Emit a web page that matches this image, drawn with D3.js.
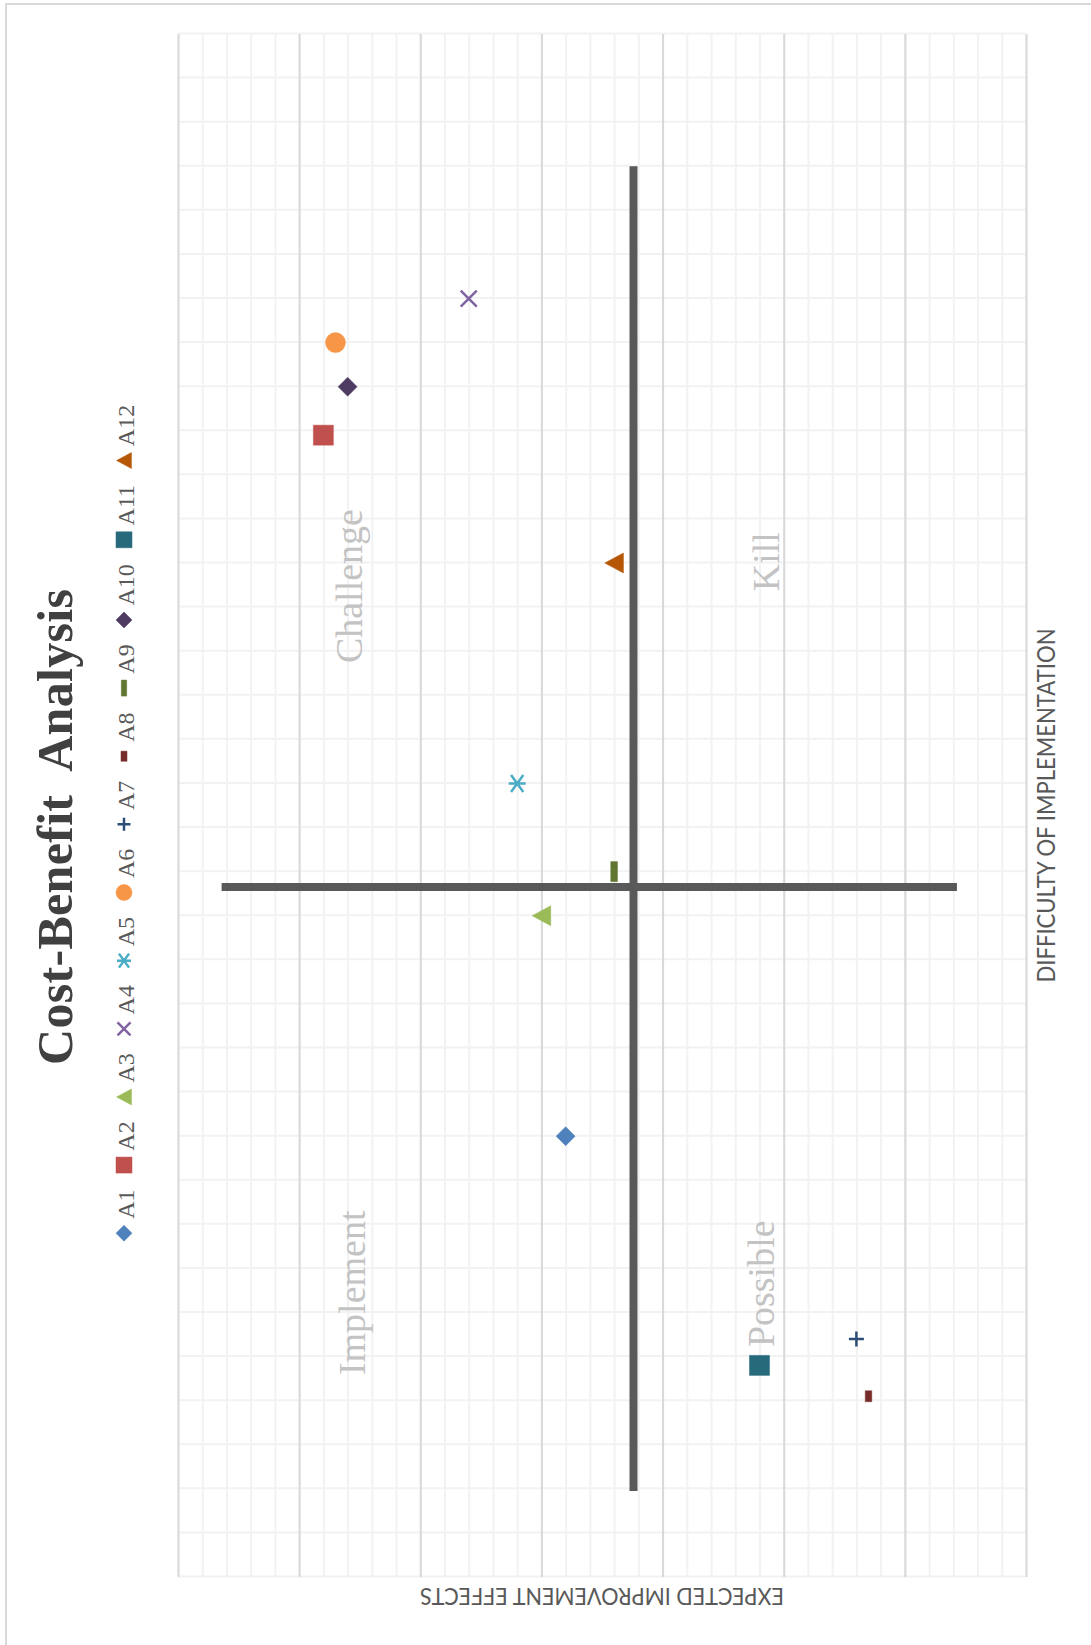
<!DOCTYPE html>
<html>
<head>
<meta charset="utf-8">
<title>Cost-Benefit Analysis</title>
<script src="https://cdn.jsdelivr.net/npm/d3@7"></script>
<style>
  html, body { margin: 0; padding: 0; background: #fff; }
  svg { display: block; }
</style>
</head>
<body>
<svg id="chart" width="1091" height="1645"></svg>
<script>
// ---- data -------------------------------------------------------------
const projects   = ["A1", "A2", "A3", "A4", "A5", "A6", "A7", "A8", "A9", "A10", "A11", "A12"];
const difficulty = [2.0, 5.18, 3.0, 5.8, 3.6, 5.6, 1.08, 0.82, 3.2, 5.4, 0.96, 4.6];
const effects    = [3.8, 5.8, 4.0, 4.6, 4.2, 5.7, 1.4, 1.3, 3.4, 5.6, 2.2, 3.4];
const colors     = ["#4f81bd", "#c0504d", "#9bbb59", "#8064a2", "#4bacc6", "#f79646",
                    "#2c4d75", "#772c2a", "#5f7530", "#4d3b62", "#276a7c", "#b65708"];
const shapes     = ["diamond", "square", "triangle", "times", "star", "circle",
                    "plus", "shortBar", "longBar", "diamond", "square", "triangle"];

// the two divider series that split the plane into quadrants
const splitEffectsDifficulty  = [0.39, 6.4];
const splitEffectsValue       = [3.24, 3.24];
const splitDifficultyValue    = [3.13, 3.13];
const splitDifficultyEffects  = [0.57, 6.64];

// quadrant captions, anchored in data units
const quadrantLabels     = ["Implement", "Challenge", "Possible", "Kill"];
const quadrantDifficulty = [0.916, 4.146, 1.043, 4.472];
const quadrantEffects    = [5.456, 5.48, 2.08, 2.04];

const title      = "Cost-Benefit  Analysis";
const xAxisTitle = "DIFFICULTY OF IMPLEMENTATION";
const yAxisTitle = "EXPECTED IMPROVEMENT EFFECTS";

// ---- layout -----------------------------------------------------------
const W = 1091, H = 1645;          // page size
const CW = H, CH = W;              // chart is laid out landscape, then turned
const plot = { left: 68, right: 1611, top: 178, bottom: 1026 };

const svg = d3.select("#chart");
svg.append("rect").attr("width", W).attr("height", H).attr("fill", "#fff");

// landscape chart turned a quarter turn counter-clockwise onto the page
const g = svg.append("g").attr("transform", `translate(0,${H}) rotate(-90)`);

// chart frame
g.append("rect")
  .attr("x", -10).attr("y", 6)
  .attr("width", 1641 + 10).attr("height", CH + 20)
  .attr("fill", "#fff").attr("stroke", "#d9d9d9").attr("stroke-width", 2);

const x = d3.scaleLinear().domain([0, 7]).range([plot.left, plot.right]);
const y = d3.scaleLinear().domain([0, 7]).range([plot.bottom, plot.top]);

const minorTicks = d3.range(0, 36).map(i => i / 5);
const majorTicks = d3.range(0, 8);

function grid(sel, color) {
  sel.select(".domain").remove();
  sel.selectAll(".tick line").attr("stroke", color).attr("stroke-width", 2);
}

// minor grid, both directions
g.append("g")
  .attr("transform", `translate(0,${plot.bottom})`)
  .call(d3.axisBottom(x).tickValues(minorTicks).tickSize(-(plot.bottom - plot.top)).tickFormat(""))
  .call(grid, "#f2f2f2");
g.append("g")
  .attr("transform", `translate(${plot.left},0)`)
  .call(d3.axisLeft(y).tickValues(minorTicks).tickSize(-(plot.right - plot.left)).tickFormat(""))
  .call(grid, "#f2f2f2");
// major grid on the effects axis
g.append("g")
  .attr("transform", `translate(${plot.left},0)`)
  .call(d3.axisLeft(y).tickValues(majorTicks).tickSize(-(plot.right - plot.left)).tickFormat(""))
  .call(grid, "#d9d9d9");

// quadrant dividers
const line = d3.line().x(d => x(d[0])).y(d => y(d[1]));
const dividers = [
  d3.zip(splitEffectsDifficulty, splitEffectsValue),
  d3.zip(splitDifficultyValue, splitDifficultyEffects)
];
g.selectAll("path.divider").data(dividers).join("path")
  .attr("class", "divider")
  .attr("d", line)
  .attr("fill", "none").attr("stroke", "#595959").attr("stroke-width", 8);

// quadrant captions
g.selectAll("text.quadrant").data(quadrantLabels).join("text")
  .attr("class", "quadrant")
  .attr("x", (d, i) => x(quadrantDifficulty[i]))
  .attr("y", (d, i) => y(quadrantEffects[i]))
  .attr("font-family", "'Liberation Serif', 'Times New Roman', serif")
  .attr("font-size", 38)
  .attr("fill", "#c3c3c3")
  .text(d => d);

// ---- marker shapes (size = nominal width in px) ------------------------
const symbolTypes = {
  circle:   { draw(c, s) { const r = s / 2; c.moveTo(r, 0); c.arc(0, 0, r, 0, 2 * Math.PI); } },
  square:   { draw(c, s) { c.rect(-s / 2, -s / 2, s, s); } },
  diamond:  { draw(c, s) { const r = s / 2; c.moveTo(0, -r); c.lineTo(r, 0); c.lineTo(0, r); c.lineTo(-r, 0); c.closePath(); } },
  triangle: { draw(c, s) { const h = s * 0.93; c.moveTo(0, -h / 2); c.lineTo(s / 2, h / 2); c.lineTo(-s / 2, h / 2); c.closePath(); } },
  times:    { draw(c, s) { const r = s / 2 - 1; c.moveTo(-r, -r); c.lineTo(r, r); c.moveTo(r, -r); c.lineTo(-r, r); } },
  star:     { draw(c, s) { const r = s / 2 - 1; c.moveTo(-r, -r * 0.72); c.lineTo(r, r * 0.72); c.moveTo(r, -r * 0.72); c.lineTo(-r, r * 0.72); c.moveTo(0, -r); c.lineTo(0, r); } },
  plus:     { draw(c, s) { const r = s / 2 - 1; c.moveTo(-r, 0); c.lineTo(r, 0); c.moveTo(0, -r); c.lineTo(0, r); } },
  longBar:  { draw(c, s) { c.rect(-s / 2, -s / 6, s, s / 3); } },
  shortBar: { draw(c, s) { c.rect(-s * 0.28, -s / 6, s * 0.56, s / 3); } }
};
const strokeShapes = new Set(["times", "star", "plus"]);
const plotSize   = { circle: 20, square: 20, diamond: 19, triangle: 20, times: 18, star: 19, plus: 17, longBar: 20, shortBar: 19.5 };
const legendSize = { circle: 16, square: 16, diamond: 16, triangle: 16, times: 15, star: 16, plus: 15, longBar: 16, shortBar: 18 };

function styleMarker(sel) {
  sel.attr("fill", d => strokeShapes.has(d.shape) ? "none" : d.color)
     .attr("stroke", d => d.color)
     .attr("stroke-width", d => strokeShapes.has(d.shape) ? 2.5 : 0.5)
     .attr("stroke-linejoin", "round");
}

const points = projects.map((name, i) => ({
  name, d: difficulty[i], e: effects[i], color: colors[i], shape: shapes[i]
}));

g.selectAll("path.point").data(points).join("path")
  .attr("class", "point")
  .attr("transform", d => `translate(${x(d.d)},${y(d.e)})`)
  .attr("d", d => d3.symbol().type(symbolTypes[d.shape]).size(plotSize[d.shape])())
  .call(styleMarker);

// ---- title & axis titles ----------------------------------------------
g.append("text")
  .attr("x", 580).attr("y", 71.5)
  .attr("xml:space", "preserve")
  .style("white-space", "pre")
  .attr("font-family", "'Liberation Serif', 'Times New Roman', serif")
  .attr("font-weight", "bold")
  .attr("font-size", 50)
  .attr("fill", "#404040")
  .attr("textLength", 476).attr("lengthAdjust", "spacing")
  .text(title);

g.append("text")
  .attr("x", (plot.left + plot.right) / 2).attr("y", 1055)
  .attr("text-anchor", "middle")
  .attr("font-family", "Lato, 'Liberation Sans', sans-serif")
  .attr("font-size", 24.5)
  .attr("fill", "#595959")
  .attr("textLength", 354).attr("lengthAdjust", "spacingAndGlyphs")
  .text(xAxisTitle);

g.append("text")
  .attr("transform", `translate(57,${(plot.top + plot.bottom) / 2}) rotate(-90)`)
  .attr("text-anchor", "middle")
  .attr("font-family", "Lato, 'Liberation Sans', sans-serif")
  .attr("font-size", 22.5)
  .attr("fill", "#595959")
  .attr("textLength", 364).attr("lengthAdjust", "spacingAndGlyphs")
  .text(yAxisTitle);

// ---- legend -----------------------------------------------------------
const legend = g.append("g");
const items = legend.selectAll("g.item").data(points).join("g").attr("class", "item");
items.append("path")
  .attr("d", d => d3.symbol().type(symbolTypes[d.shape]).size(legendSize[d.shape])())
  .call(styleMarker);
const labels = items.append("text")
  .attr("x", 14.4).attr("y", 9.5)
  .attr("font-family", "'Liberation Serif', 'Times New Roman', serif")
  .attr("font-size", 24)
  .attr("fill", "#595959")
  .text(d => d.name);

const itemGap = 24.4;
let cursor = 0;
const offsets = [];
labels.each(function () {
  offsets.push(cursor);
  cursor += 14.4 + this.getComputedTextLength() + itemGap;
});
const legendWidth = cursor - itemGap + 8;
const legendStart = 822 - legendWidth / 2 + 8;
items.attr("transform", (d, i) => `translate(${legendStart + offsets[i]},124)`);
</script>
</body>
</html>
